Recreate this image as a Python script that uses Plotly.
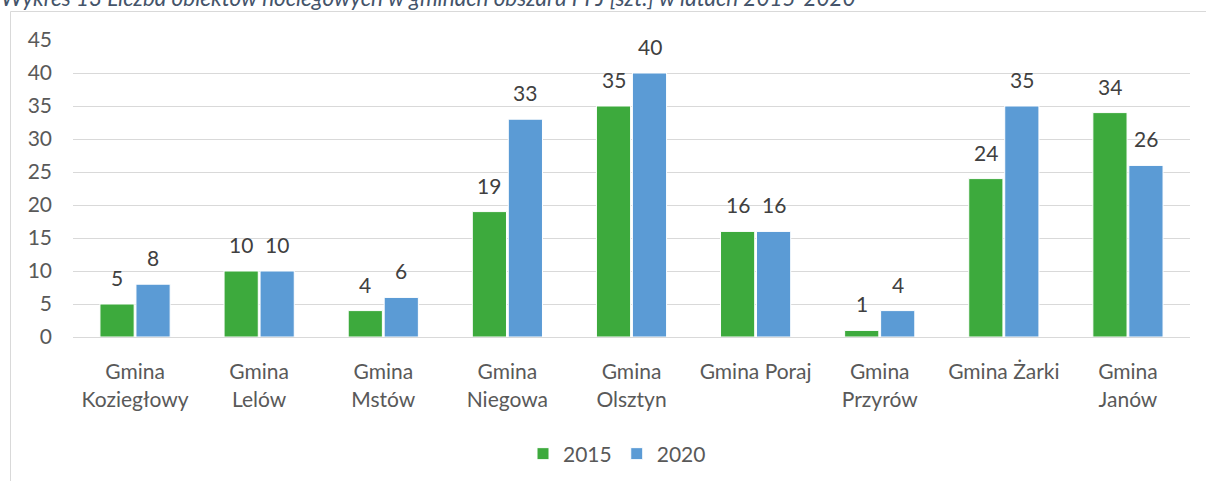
import plotly.graph_objects as go

categories = ["Gmina<br>Koziegłowy", "Gmina<br>Lelów", "Gmina<br>Mstów", "Gmina<br>Niegowa",
              "Gmina<br>Olsztyn", "Gmina Poraj", "Gmina<br>Przyrów", "Gmina Żarki", "Gmina<br>Janów"]
values_2015 = [5, 10, 4, 19, 35, 16, 1, 24, 34]
values_2020 = [8, 10, 6, 33, 40, 16, 4, 35, 26]
y_ticks = [0, 5, 10, 15, 20, 25, 30, 35, 40, 45]
title_text = "Wykres 13 Liczba obiektów noclegowych w gminach obszaru PPJ [szt.] w latach 2015-2020"

W, H = 1206, 481
L, R, T, B = 73, 16, 40, 144
pw, ph = W - L - R, H - T - B

def px_x(px):
    return (px - L) / pw

def px_y(py):
    return (H - B - py) / ph

font_family = "Lato, 'Open Sans', sans-serif"
FS = 21
bar_half = 18  # pixel offset of each bar centre from category centre

fig = go.Figure()
fig.add_trace(go.Bar(name="2015", x=categories, y=values_2015, marker_color="#3DAA3D",
                     marker_line=dict(color="white", width=1)))
fig.add_trace(go.Bar(name="2020", x=categories, y=values_2020, marker_color="#5B9BD5",
                     marker_line=dict(color="white", width=1)))

for vals, xs in ((values_2015, -bar_half), (values_2020, bar_half)):
    for c, v in zip(categories, vals):
        fig.add_annotation(x=c, y=v, text=str(v), showarrow=False, xshift=xs, yshift=12,
                           yanchor="bottom", xanchor="center",
                           font=dict(size=FS, color="#404040", family=font_family))

fig.update_layout(
    width=W, height=H,
    margin=dict(l=L, r=R, t=T, b=B, autoexpand=False),
    paper_bgcolor="white", plot_bgcolor="white",
    barmode="group", bargap=0.42, bargroupgap=0.05,
    font=dict(family=font_family, size=FS, color="#595959"),
    showlegend=True,
    legend=dict(orientation="h", xref="container", yref="container",
                x=617 / W, xanchor="center", y=1 - 454 / H, yanchor="middle",
                font=dict(size=FS, color="#595959"), itemwidth=30, traceorder="normal"),
    xaxis=dict(showline=True, linecolor="#D9D9D9", linewidth=1, ticks="", automargin=False,
               tickfont=dict(size=FS, color="#595959"), showgrid=False, ticklabelstandoff=16),
    yaxis=dict(range=[0, 45], tickvals=y_ticks, showgrid=True, gridcolor="#D9D9D9",
               gridwidth=1, zeroline=False, ticks="", showline=False, automargin=False,
               tickfont=dict(size=FS, color="#595959"), ticklabelstandoff=20),
)

# chart frame (Excel chart area border)
fig.add_shape(type="rect", xref="paper", yref="paper",
              x0=px_x(10.5), x1=px_x(1215), y0=px_y(490), y1=px_y(11.5),
              line=dict(color="#D9D9D9", width=1), layer="below")

fig.add_annotation(text=f"<i>{title_text}</i>", xref="paper", yref="paper",
                   x=px_x(-1), y=px_y(-3), xanchor="left", yanchor="middle",
                   showarrow=False, font=dict(size=22.5, color="#44546A", family=font_family))

fig.write_html("out.html", config={"displayModeBar": False},
               post_script="document.body.style.margin='0';document.body.style.overflow='hidden';")
